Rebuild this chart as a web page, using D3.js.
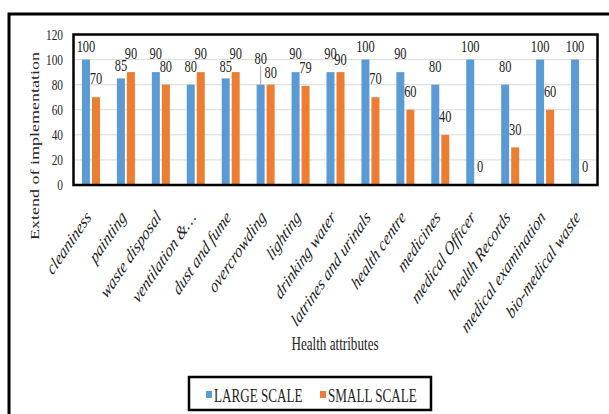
<!DOCTYPE html>
<html><head><meta charset="utf-8">
<script src="https://cdn.jsdelivr.net/npm/d3@7"></script>
<style>html,body{margin:0;padding:0;background:#fff;} svg{display:block;}</style>
</head><body>
<svg id="chart" width="609" height="414"></svg>
<script>
// ---- data ----
const categories = ["cleaniness","painting","waste disposal","ventilation &\u2026","dust and fume","overcrowding","lighting","drinking water","latrines and urinals","health centre","medicines","medical Officer","health Records","medical examination","bio-medical waste"];
const largeScale = [100,85,90,80,85,80,90,90,100,90,80,100,80,100,100];
const smallScale = [70,90,80,90,90,80,79,90,70,60,40,0,30,60,0];
const seriesNames = ["LARGE SCALE","SMALL SCALE"];
const seriesColors = ["#5B9BD5","#ED7D31"];
const yTicks = [0,20,40,60,80,100,120];
const yTitle = "Extend of implementation";
const xTitle = "Health attributes";
// manual label nudges (as moved by hand in the original), px
const labelNudges = {"LARGE SCALE|painting":5.5,"LARGE SCALE|dust and fume":6,"LARGE SCALE|overcrowding":-8,"SMALL SCALE|overcrowding":6,"SMALL SCALE|drinking water":6};

// ---- layout ----
const sx = 0.73; // horizontal squeeze of the original picture
const X = v => v / sx;
const svg = d3.select("#chart");
const g = svg.append("g").attr("transform", `scale(${sx},1)`);
const serif = "'Liberation Serif','Times New Roman',serif";
const plot = {l:73.5, r:597.5, t:34.5, b:185};

// outer frame
g.append("rect").attr("x",X(9)).attr("y",14).attr("width",X(640)).attr("height",440)
  .attr("fill","none").attr("stroke","#000").attr("stroke-width",3).attr("vector-effect","non-scaling-stroke");

const y = d3.scaleLinear().domain([0,120]).range([plot.b, plot.t]);
const x = d3.scaleBand().domain(categories).range([X(plot.l), X(plot.r)]);
const xs = d3.scaleBand().domain(seriesNames).range([X(-9), X(9)]).paddingInner(0.2);

// gridlines
g.append("g").selectAll("line").data(yTicks.filter(t => t>0 && t<120)).join("line")
  .attr("x1",X(plot.l)).attr("x2",X(plot.r)).attr("y1",d=>y(d)).attr("y2",d=>y(d))
  .attr("stroke","#D9D9D9").attr("stroke-width",1).attr("vector-effect","non-scaling-stroke");

// bars
const rows = [];
categories.forEach((c,i) => {
  [largeScale[i], smallScale[i]].forEach((v,k) => rows.push({c, s:seriesNames[k], v, color:seriesColors[k]}));
});
g.append("g").selectAll("rect").data(rows).join("rect")
  .attr("x", d => x(d.c) + x.bandwidth()/2 + xs(d.s))
  .attr("width", xs.bandwidth())
  .attr("y", d => y(d.v))
  .attr("height", d => y(0) - y(d.v))
  .attr("fill", d => d.color);

// data labels
const lab = g.append("g");
rows.forEach(d => {
  const cx = x(d.c) + x.bandwidth()/2 + xs(d.s) + xs.bandwidth()/2;
  let base = Math.max(y(d.v) - 12.8, 52);
  base += labelNudges[d.s + "|" + d.c] || 0;
  if (y(d.v) - base > 16) {
    lab.append("line").attr("x1",cx).attr("x2",cx).attr("y1",base+2).attr("y2",y(d.v))
      .attr("stroke","#A6A6A6").attr("stroke-width",1).attr("vector-effect","non-scaling-stroke");
  }
  lab.append("text").attr("x",cx).attr("y",base).attr("text-anchor","middle")
    .attr("font-family",serif).attr("font-size",17).attr("fill","#222").text(d.v);
});

// plot border
g.append("rect").attr("x",X(plot.l)).attr("y",plot.t).attr("width",X(plot.r-plot.l)).attr("height",plot.b-plot.t)
  .attr("fill","none").attr("stroke","#000").attr("stroke-width",2.5).attr("vector-effect","non-scaling-stroke");

// y axis
const ya = g.append("g").attr("transform",`translate(${X(plot.l)},0)`)
  .call(d3.axisLeft(y).tickValues(yTicks).tickSize(0).tickPadding(X(10.5)));
ya.select(".domain").remove();
ya.selectAll("text").attr("font-family",serif).attr("font-size",15.5).attr("fill","#222");

// x axis
const xa = g.append("g").attr("transform",`translate(0,${plot.b})`)
  .call(d3.axisBottom(x).tickSize(0));
xa.select(".domain").remove();
xa.selectAll("text").attr("x",0).attr("y",0).attr("dy",0)
  .attr("text-anchor","end").attr("font-family",serif).attr("font-style","italic")
  .attr("font-size",19).attr("fill","#222")
  .attr("transform",`translate(${X(1)},33) rotate(-47)`);

// titles
g.append("text").attr("transform",`translate(${X(39)},146) rotate(-90)`).attr("text-anchor","middle")
  .attr("font-family",serif).attr("font-size",18).attr("fill","#222").text(yTitle);
g.append("text").attr("x",X(335)).attr("y",350).attr("text-anchor","middle")
  .attr("font-family",serif).attr("font-size",18).attr("fill","#222").text(xTitle);

// legend
g.append("rect").attr("x",X(189)).attr("y",377).attr("width",X(242)).attr("height",33)
  .attr("fill","#fff").attr("stroke","#000").attr("stroke-width",2.5).attr("vector-effect","non-scaling-stroke");
const legX = [206, 320];
seriesNames.forEach((s,k) => {
  g.append("rect").attr("x",X(legX[k])).attr("y",391).attr("width",X(6)).attr("height",7).attr("fill",seriesColors[k]);
  g.append("text").attr("x",X(legX[k]+8)).attr("y",402).attr("font-family",serif).attr("font-size",18)
    .attr("fill","#222").text(s);
});
</script>
</body></html>
